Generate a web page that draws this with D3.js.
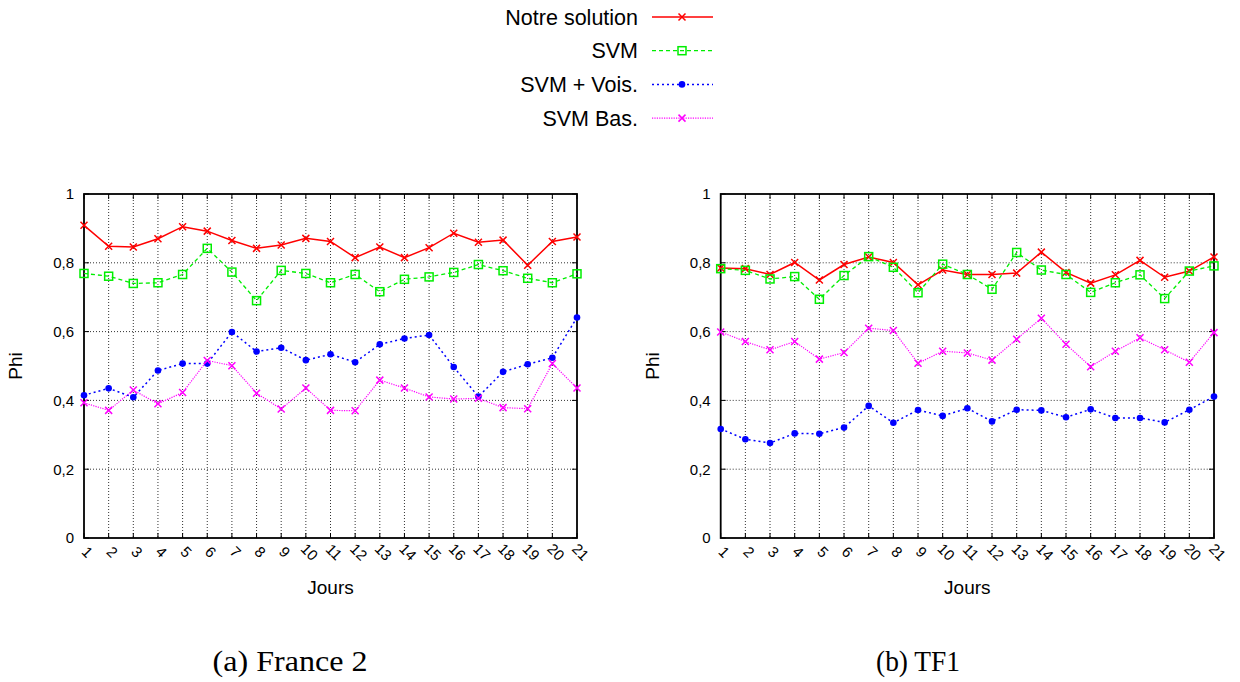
<!DOCTYPE html>
<html><head><meta charset="utf-8">
<script src="https://cdn.jsdelivr.net/npm/d3@7"></script>
<style>body{margin:0;background:#fff}svg{display:block}</style>
</head><body>
<svg id="c" width="1240" height="682"></svg>
<script>
const days = d3.range(1, 22);
const yTicks = [0, 0.2, 0.4, 0.6, 0.8, 1];
const seriesNames = ["Notre solution", "SVM", "SVM + Vois.", "SVM Bas."];
const captions = ["(a) France 2", "(b) TF1"];

// France 2
const f2Notre = [0.909,0.848,0.846,0.870,0.905,0.892,0.865,0.842,0.852,0.871,0.862,0.815,0.846,0.815,0.844,0.886,0.860,0.866,0.793,0.862,0.875];
const f2SVM   = [0.769,0.761,0.740,0.742,0.766,0.842,0.773,0.690,0.778,0.769,0.742,0.766,0.716,0.752,0.759,0.772,0.795,0.777,0.755,0.742,0.768];
const f2Vois  = [0.415,0.435,0.409,0.487,0.507,0.507,0.599,0.542,0.553,0.517,0.534,0.511,0.563,0.580,0.590,0.497,0.411,0.483,0.505,0.524,0.641];
const f2Bas   = [0.393,0.371,0.430,0.390,0.423,0.516,0.501,0.421,0.375,0.436,0.371,0.370,0.459,0.436,0.410,0.404,0.406,0.379,0.376,0.507,0.436];
// TF1
const tfNotre = [0.785,0.783,0.766,0.801,0.750,0.795,0.817,0.801,0.736,0.779,0.766,0.766,0.770,0.831,0.772,0.741,0.765,0.807,0.758,0.776,0.817];
const tfSVM   = [0.783,0.778,0.753,0.760,0.694,0.763,0.818,0.787,0.713,0.796,0.766,0.723,0.830,0.779,0.766,0.714,0.742,0.765,0.696,0.776,0.791];
const tfVois  = [0.317,0.287,0.276,0.304,0.303,0.321,0.384,0.335,0.372,0.355,0.377,0.339,0.373,0.371,0.351,0.374,0.349,0.349,0.336,0.373,0.411];
const tfBas   = [0.599,0.571,0.547,0.571,0.520,0.539,0.610,0.603,0.508,0.543,0.538,0.517,0.578,0.639,0.563,0.498,0.543,0.582,0.547,0.511,0.597];

const styles = [
  {color:"#ff0000", dash:null, width:1.5, marker:"x"},
  {color:"#00ee00", dash:"4,3", width:1.3, marker:"sq"},
  {color:"#0000ff", dash:"2,3", width:1.5, marker:"dot"},
  {color:"#ff00ff", dash:"1.2,1.2", width:1.2, marker:"x"}
];

const svg = d3.select("#c");
const FONT = "'Liberation Sans', Arial, sans-serif";

function drawMarker(g, type, x, y, color) {
  if (type === "x") {
    const s = 3.5;
    g.append("path").attr("d", `M${x-s},${y-s}L${x+s},${y+s}M${x-s},${y+s}L${x+s},${y-s}`)
      .attr("stroke", color).attr("stroke-width", 1.5).attr("fill", "none");
  } else if (type === "sq") {
    g.append("rect").attr("x", x-4).attr("y", y-4).attr("width", 8).attr("height", 8)
      .attr("stroke", color).attr("stroke-width", 1.5).attr("fill", "none");
  } else {
    g.append("circle").attr("cx", x).attr("cy", y).attr("r", 3.3).attr("fill", color);
  }
}

function panel(x0, x1, data, capX, caption) {
  const top = 194, bottom = 538;
  const x = d3.scaleLinear().domain([1, 21]).range([x0, x1]);
  const y = d3.scaleLinear().domain([0, 1]).range([bottom, top]);
  const g = svg.append("g");

  // grid
  g.selectAll(".gx").data(days.slice(1, 20)).join("line")
    .attr("x1", d => x(d)).attr("x2", d => x(d)).attr("y1", top).attr("y2", bottom)
    .attr("stroke", "#333").attr("stroke-width", 1).attr("stroke-dasharray", "1,2");
  g.selectAll(".gy").data(yTicks.slice(1, 5)).join("line")
    .attr("x1", x0).attr("x2", x1).attr("y1", d => y(d)).attr("y2", d => y(d))
    .attr("stroke", "#333").attr("stroke-width", 1).attr("stroke-dasharray", "1,2");

  // inward tick marks
  g.selectAll(".tb").data(days).join("line")
    .attr("x1", d => x(d)).attr("x2", d => x(d)).attr("y1", bottom).attr("y2", bottom - 5)
    .attr("stroke", "#000").attr("stroke-width", 1);
  g.selectAll(".tt").data(days).join("line")
    .attr("x1", d => x(d)).attr("x2", d => x(d)).attr("y1", top).attr("y2", top + 5)
    .attr("stroke", "#000").attr("stroke-width", 1);
  g.selectAll(".tl").data(yTicks).join("line")
    .attr("x1", x0).attr("x2", x0 + 5).attr("y1", d => y(d)).attr("y2", d => y(d))
    .attr("stroke", "#000").attr("stroke-width", 1);
  g.selectAll(".tr").data(yTicks).join("line")
    .attr("x1", x1).attr("x2", x1 - 5).attr("y1", d => y(d)).attr("y2", d => y(d))
    .attr("stroke", "#000").attr("stroke-width", 1);

  // axes via d3
  const yAxis = d3.axisLeft(y).tickValues(yTicks).tickSize(0).tickPadding(10)
    .tickFormat(d => d3.format(".1f")(d).replace(".", ",").replace(/^0,0$/, "0").replace(/^1,0$/, "1"));
  const ya = g.append("g").attr("transform", `translate(${x0},0)`).call(yAxis);
  ya.select(".domain").remove();
  ya.selectAll("text").attr("font-family", FONT).attr("font-size", 15).attr("fill", "#000");

  const xAxis = d3.axisBottom(x).tickValues(days).tickSize(0).tickFormat(d => d);
  const xa = g.append("g").attr("transform", `translate(0,${bottom})`).call(xAxis);
  xa.select(".domain").remove();
  xa.selectAll("text").attr("font-family", FONT).attr("font-size", 15).attr("fill", "#000")
    .attr("y", 0).attr("dy", "0.35em").attr("text-anchor", "middle")
    .attr("transform", "translate(3,14) rotate(45)");

  // frame
  g.append("rect").attr("x", x0).attr("y", top).attr("width", x1 - x0).attr("height", bottom - top)
    .attr("fill", "none").attr("stroke", "#000").attr("stroke-width", 1.8);

  // series
  data.forEach((vals, i) => {
    const st = styles[i];
    const line = d3.line().x((d, j) => x(days[j])).y(d => y(d));
    g.append("path").datum(vals).attr("d", line).attr("fill", "none")
      .attr("stroke", st.color).attr("stroke-width", st.width)
      .attr("stroke-dasharray", st.dash);
    vals.forEach((v, j) => drawMarker(g, st.marker, x(days[j]), y(v), st.color));
  });

  // axis titles
  g.append("text").attr("transform", `translate(${x0 - 62},${(top + bottom) / 2}) rotate(-90)`)
    .attr("text-anchor", "middle").attr("font-family", FONT).attr("font-size", 19).text("Phi");
  g.append("text").attr("x", (x0 + x1) / 2).attr("y", 594)
    .attr("text-anchor", "middle").attr("font-family", FONT).attr("font-size", 19).text("Jours");

  // caption
  const cap = svg.append("text").attr("x", capX).attr("y", 671).attr("text-anchor", "middle")
    .attr("font-family", "'Liberation Serif', 'DejaVu Serif', serif").attr("font-size", 29)
    .text(caption);
  return cap;
}

panel(84, 577, [f2Notre, f2SVM, f2Vois, f2Bas], 290, captions[0])
  .attr("textLength", 155).attr("lengthAdjust", "spacingAndGlyphs");
panel(720.7, 1214, [tfNotre, tfSVM, tfVois, tfBas], 918, captions[1])
  .attr("textLength", 84).attr("lengthAdjust", "spacingAndGlyphs");

// legend
const leg = svg.append("g");
seriesNames.forEach((name, i) => {
  const yy = 17 + i * 33.7;
  const st = styles[i];
  leg.append("text").attr("x", 638).attr("y", yy).attr("dy", "0.35em").attr("text-anchor", "end")
    .attr("font-family", FONT).attr("font-size", 21.5).text(name);
  leg.append("line").attr("x1", 652).attr("x2", 713).attr("y1", yy).attr("y2", yy)
    .attr("stroke", st.color).attr("stroke-width", st.width).attr("stroke-dasharray", st.dash);
  drawMarker(leg, st.marker, 682, yy, st.color);
});
</script>
</body></html>
